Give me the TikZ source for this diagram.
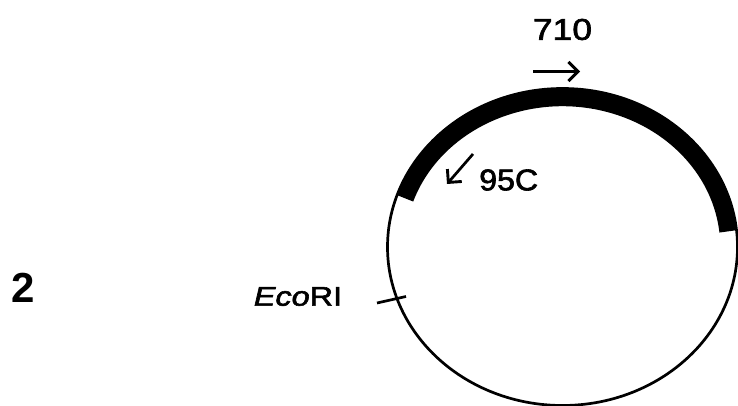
\documentclass[tikz,border=0pt]{standalone}
\usepackage{fontspec}
\setmainfont{Liberation Sans}
\newfontfamily\heavy{Liberation Sans}[FakeBold=2,ItalicFeatures={FakeBold=2}]
\usetikzlibrary{arrows.meta}
\begin{document}
\begin{tikzpicture}[x=1pt,y=1pt,
  thin line/.style={line width=2.7pt},
  gene band/.style={line width=17.5pt,line cap=butt},
  label/.style={inner sep=0pt,anchor=center},
  barb/.style={line width=2.7pt,-{Straight Barb[length=9.5pt,width=19pt,line width=2.9pt]}}]
\useasboundingbox (0,0) rectangle (738,406);
\fill[white] (0,0) rectangle (738,406);
\coordinate (c) at (562.5,159);
% plasmid circle
\draw[thin line] (c) ellipse[x radius=175, y radius=158.5];
% thick gene band
\draw[gene band] ([shift={(161:166.5 and 149.5)}]c) arc[start angle=161,end angle=6,x radius=166.5,y radius=149.5];
% labels
\node[label] (n710) at (562.5,376.5) {\heavy\fontsize{30}{32}\selectfont\scalebox{1.18}[1]{710}};
\coordinate (a1s) at (533,334.5);
\coordinate (a1e) at (580,334.5);
\draw[barb] (a1s) -- (a1e);
\node[label] (n95c) at (508.7,226) {\heavy\fontsize{30}{32}\selectfont\scalebox{1.07}[1]{95C}};
\coordinate (a2s) at (473,252);
\coordinate (a2e) at (447,222);
\draw[barb] (a2s) -- (a2e);
\node[label] (eco) at (298,109.5) {\heavy\fontsize{27}{29}\selectfont\scalebox{1.2}[1]{\textit{Eco}RI}};
\coordinate (t1) at (377,103);
\coordinate (t2) at (406,109.5);
\draw[thin line] (t1) -- (t2);
\node[label] (two) at (23,118) {\fontsize{42}{44}\selectfont\bfseries 2};
\end{tikzpicture}
\end{document}
